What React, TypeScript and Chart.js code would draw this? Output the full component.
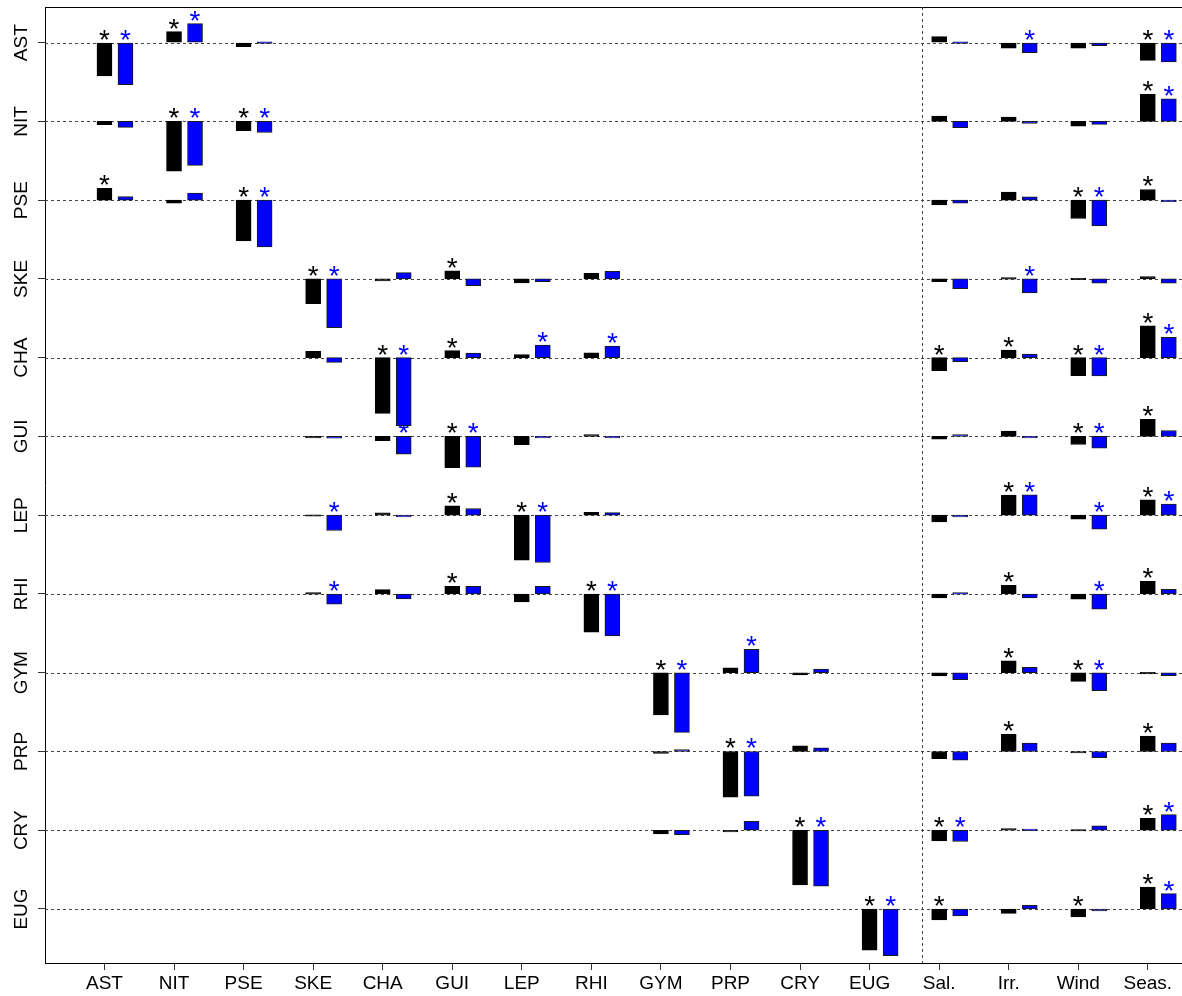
import { useEffect, useRef } from "react";
import { Chart, registerables } from "chart.js";

Chart.register(...registerables);

const FONT = "'Liberation Sans', Arial, Helvetica, sans-serif";

// Responding taxa (rows, top to bottom) and explanatory columns
const taxa = ["AST", "NIT", "PSE", "SKE", "CHA", "GUI", "LEP", "RHI", "GYM", "PRP", "CRY", "EUG"];
const drivers = ["Sal.", "Irr.", "Wind", "Seas."];
const columns = [...taxa, ...drivers];

type Cell = number | null;
const _: Cell = null;

// Effect of each column on each row taxon (black series); null = not estimated
const effectsBlack: Cell[][] = [
  //  AST     NIT     PSE     SKE     CHA     GUI     LEP     RHI     GYM     PRP     CRY     EUG     Sal.    Irr.    Wind    Seas.
  [-0.423, 0.140, -0.051, _, _, _, _, _, _, _, _, _, 0.076, -0.070, -0.070, -0.225],
  [-0.042, -0.631, -0.118, _, _, _, _, _, _, _, _, _, 0.067, 0.055, -0.060, 0.343],
  [0.149, -0.038, -0.517, _, _, _, _, _, _, _, _, _, -0.060, 0.102, -0.232, 0.136],
  [_, _, _, -0.314, -0.025, 0.102, -0.051, 0.072, _, _, _, _, -0.034, 0.017, 0.009, 0.029],
  [_, _, _, 0.080, -0.707, 0.089, 0.038, 0.063, _, _, _, _, -0.165, 0.098, -0.229, 0.406],
  [_, _, _, -0.008, -0.055, -0.397, -0.105, 0.025, _, _, _, _, -0.034, 0.067, -0.102, 0.216],
  [_, _, _, 0.006, 0.029, 0.118, -0.571, 0.038, _, _, _, _, -0.085, 0.254, -0.051, 0.194],
  [_, _, _, 0.017, 0.055, 0.098, -0.102, -0.486, _, _, _, _, -0.051, 0.110, -0.067, 0.161],
  [_, _, _, _, _, _, _, _, -0.537, 0.063, -0.029, _, -0.042, 0.152, -0.110, 0.005],
  [_, _, _, _, _, _, _, _, -0.025, -0.580, 0.072, _, -0.093, 0.216, -0.017, 0.194],
  [_, _, _, _, _, _, _, _, -0.047, -0.022, -0.695, _, -0.136, 0.022, 0.009, 0.152],
  [_, _, _, _, _, _, _, _, _, _, _, -0.524, -0.140, -0.055, -0.102, 0.279],
];

// Same layout for the blue series
const effectsBlue: Cell[][] = [
  [-0.533, 0.241, 0.010, _, _, _, _, _, _, _, _, _, -0.010, -0.127, -0.038, -0.245],
  [-0.076, -0.559, -0.140, _, _, _, _, _, _, _, _, _, -0.080, -0.025, -0.038, 0.288],
  [0.047, 0.089, -0.593, _, _, _, _, _, _, _, _, _, -0.038, 0.042, -0.326, -0.008],
  [_, _, _, -0.618, 0.080, -0.085, -0.034, 0.098, _, _, _, _, -0.123, -0.178, -0.055, -0.055],
  [_, _, _, -0.060, -0.863, 0.060, 0.161, 0.149, _, _, _, _, -0.051, 0.047, -0.232, 0.258],
  [_, _, _, -0.022, -0.225, -0.390, -0.008, -0.008, _, _, _, _, 0.025, -0.006, -0.149, 0.076],
  [_, _, _, -0.194, -0.022, 0.085, -0.601, 0.034, _, _, _, _, -0.022, 0.258, -0.178, 0.140],
  [_, _, _, -0.131, -0.063, 0.098, 0.098, -0.533, _, _, _, _, 0.017, -0.051, -0.194, 0.060],
  [_, _, _, _, _, _, _, _, -0.758, 0.296, 0.047, _, -0.089, 0.067, -0.229, -0.038],
  [_, _, _, _, _, _, _, _, 0.025, -0.568, 0.047, _, -0.110, 0.105, -0.080, 0.105],
  [_, _, _, _, _, _, _, _, -0.055, 0.114, -0.711, _, -0.143, 0.013, 0.055, 0.199],
  [_, _, _, _, _, _, _, _, _, _, _, -0.593, -0.089, 0.047, -0.025, 0.194],
];

// Significant effects (marked with an asterisk), per row
const starsBlack: string[][] = [
  ["AST", "NIT", "Seas."],
  ["NIT", "PSE", "Seas."],
  ["AST", "PSE", "Wind", "Seas."],
  ["SKE", "GUI"],
  ["CHA", "GUI", "Sal.", "Irr.", "Wind", "Seas."],
  ["GUI", "Wind", "Seas."],
  ["GUI", "LEP", "Irr.", "Seas."],
  ["GUI", "RHI", "Irr.", "Seas."],
  ["GYM", "Irr.", "Wind"],
  ["PRP", "Irr.", "Seas."],
  ["CRY", "Sal.", "Seas."],
  ["EUG", "Sal.", "Wind", "Seas."],
];

const starsBlue: string[][] = [
  ["AST", "NIT", "Irr.", "Seas."],
  ["NIT", "PSE", "Seas."],
  ["PSE", "Wind"],
  ["SKE", "Irr."],
  ["CHA", "LEP", "RHI", "Wind", "Seas."],
  ["CHA", "GUI", "Wind"],
  ["SKE", "LEP", "Irr.", "Wind", "Seas."],
  ["SKE", "RHI", "Wind"],
  ["GYM", "PRP", "Wind"],
  ["PRP"],
  ["CRY", "Sal.", "Seas."],
  ["EUG", "Seas."],
];

// Layout of the panel in axis units (one row = 1 unit on y, one column = 1 unit on x)
const BLUE_SHIFT = 0.302;
const SEPARATOR_X = 11.75;
const X_MIN = -0.855;
const X_MAX = 15.75;
const Y_MIN = -11.686;
const Y_MAX = 0.453;

const BLACK = "#000000";
const BLUE = "#0000ff";

function toBars(values: Cell[][], shift: number) {
  const pts: { x: number; y: [number, number] }[] = [];
  values.forEach((row, r) => {
    row.forEach((v, c) => {
      if (v === null) return;
      pts.push({ x: c + shift, y: [-r, -r + v] });
    });
  });
  return pts;
}

const panelDecor = {
  id: "panelDecor",
  beforeDatasetsDraw(chart: any) {
    const { ctx, chartArea: a, scales } = chart;
    const x = scales.x;
    const y = scales.y;
    ctx.save();
    ctx.strokeStyle = "#444";
    ctx.lineWidth = 1;
    ctx.setLineDash([3, 3]);
    taxa.forEach((_t, r) => {
      const py = Math.round(y.getPixelForValue(-r)) + 0.5;
      ctx.beginPath();
      ctx.moveTo(a.left, py);
      ctx.lineTo(a.right, py);
      ctx.stroke();
    });
    const sx = Math.round(x.getPixelForValue(SEPARATOR_X)) + 0.5;
    ctx.beginPath();
    ctx.moveTo(sx, a.top);
    ctx.lineTo(sx, a.bottom);
    ctx.stroke();
    ctx.restore();
  },
  afterDatasetsDraw(chart: any) {
    const { ctx, scales } = chart;
    const x = scales.x;
    const y = scales.y;
    ctx.save();
    ctx.font = `28px ${FONT}`;
    ctx.textAlign = "center";
    ctx.textBaseline = "alphabetic";
    const m = ctx.measureText("*");
    const descent = m.actualBoundingBoxDescent;
    const series = [
      { values: effectsBlack, stars: starsBlack, shift: 0, color: BLACK },
      { values: effectsBlue, stars: starsBlue, shift: BLUE_SHIFT, color: BLUE },
    ];
    for (const s of series) {
      ctx.fillStyle = s.color;
      s.stars.forEach((cols, r) => {
        cols.forEach((name) => {
          const c = columns.indexOf(name);
          const v = s.values[r][c] ?? 0;
          const top = y.getPixelForValue(-r + Math.max(v, 0));
          const px = x.getPixelForValue(c + s.shift);
          ctx.fillText("*", px, top - 3 - descent);
        });
      });
    }
    ctx.restore();
  },
  afterDraw(chart: any) {
    const { ctx, scales } = chart;
    const y = scales.y;
    ctx.save();
    ctx.font = `19px ${FONT}`;
    ctx.fillStyle = BLACK;
    ctx.textAlign = "center";
    ctx.textBaseline = "alphabetic";
    taxa.forEach((name, r) => {
      const py = y.getPixelForValue(-r);
      ctx.save();
      ctx.translate(26.5, py);
      ctx.rotate(-Math.PI / 2);
      ctx.fillText(name, 0, 0);
      ctx.restore();
    });
    ctx.restore();
  },
};

export default function App() {
  const canvasRef = useRef<HTMLCanvasElement | null>(null);

  useEffect(() => {
    if (!canvasRef.current) return;
    const chart = new Chart(canvasRef.current, {
      type: "bar",
      data: {
        datasets: [
          {
            label: "black",
            data: toBars(effectsBlack, 0) as any,
            backgroundColor: BLACK,
            borderColor: BLACK,
          },
          {
            label: "blue",
            data: toBars(effectsBlue, BLUE_SHIFT) as any,
            backgroundColor: BLUE,
            borderColor: "#1a1a1a",
          },
        ],
      },
      options: {
        responsive: false,
        animation: false,
        events: [],
        layout: { padding: { top: 7, left: 0, right: 0, bottom: 0 } },
        datasets: {
          bar: {
            grouped: false,
            barThickness: 15,
            borderWidth: 1,
            borderSkipped: false,
            minBarLength: 1.5,
          },
        },
        plugins: {
          legend: { display: false },
          tooltip: { enabled: false },
        },
        scales: {
          x: {
            type: "linear",
            position: "bottom",
            offset: false,
            min: X_MIN,
            max: X_MAX,
            afterBuildTicks: (s: any) => {
              s.ticks = columns.map((_c, i) => ({ value: i }));
            },
            afterFit: (s: any) => {
              s.height = 33;
            },
            ticks: {
              autoSkip: false,
              maxRotation: 0,
              minRotation: 0,
              padding: 2,
              color: BLACK,
              font: { family: FONT, size: 19 },
              callback: (_v: any, i: number) => columns[i],
            },
            grid: {
              offset: false,
              drawOnChartArea: false,
              drawTicks: true,
              tickLength: 7,
              color: "#333",
              lineWidth: 1,
            },
            border: { display: true, color: BLACK, width: 1 },
          },
          xTop: {
            type: "linear",
            position: "top",
            offset: false,
            min: X_MIN,
            max: X_MAX,
            afterFit: (s: any) => {
              s.height = 0;
            },
            ticks: { display: false },
            grid: { display: false, offset: false },
            border: { display: true, color: BLACK, width: 1 },
          },
          y: {
            type: "linear",
            position: "left",
            offset: false,
            min: Y_MIN,
            max: Y_MAX,
            afterBuildTicks: (s: any) => {
              s.ticks = taxa.map((_t, r) => ({ value: -r }));
            },
            afterFit: (s: any) => {
              s.width = 45;
            },
            ticks: { display: false },
            grid: {
              offset: false,
              drawOnChartArea: false,
              drawTicks: true,
              tickLength: 7,
              color: "#333",
              lineWidth: 1,
            },
            border: { display: true, color: BLACK, width: 1 },
          },
        },
      } as any,
      plugins: [panelDecor],
    });
    return () => chart.destroy();
  }, []);

  return (
    <div
      style={{
        position: "fixed",
        left: 0,
        top: 0,
        width: 1182,
        height: 996,
        overflow: "hidden",
        background: "#ffffff",
      }}
    >
      <canvas ref={canvasRef} width={1200} height={996} style={{ display: "block" }} />
    </div>
  );
}
